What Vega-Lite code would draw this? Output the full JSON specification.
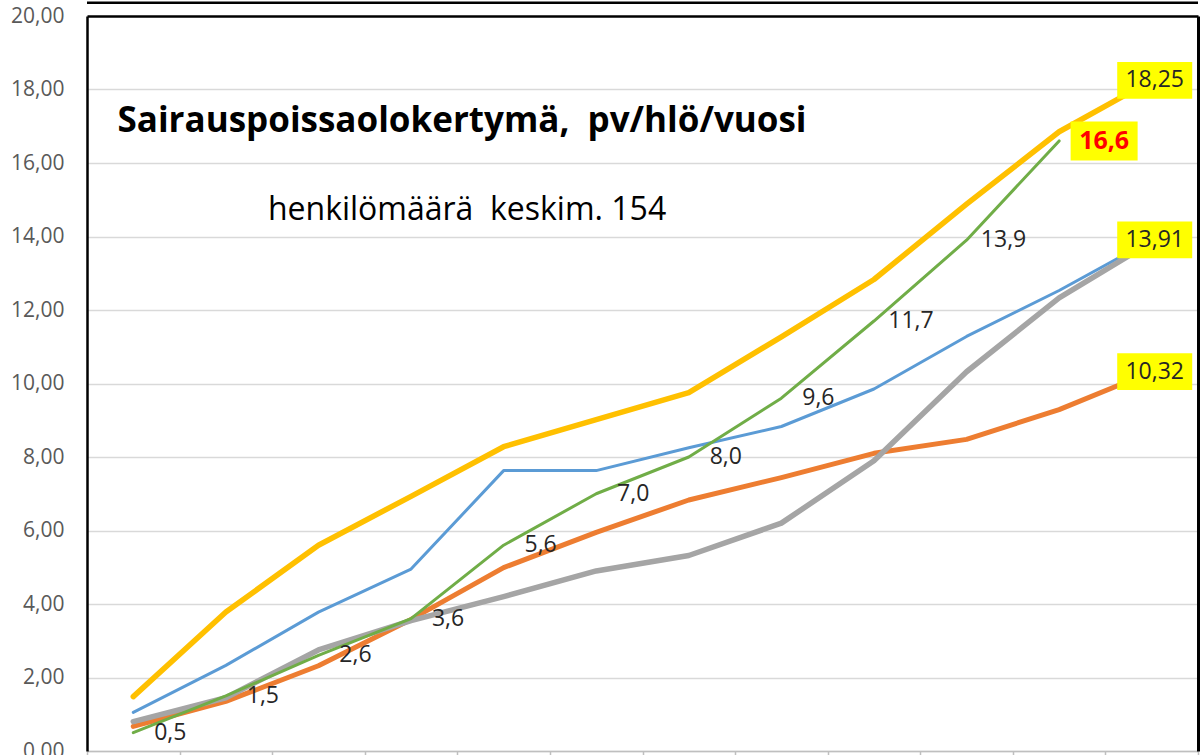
{
  "$schema": "https://vega.github.io/schema/vega-lite/v6.json",
  "width": 1111,
  "height": 735,
  "autosize": "none",
  "padding": {"left": 87, "top": 16, "right": 4, "bottom": 4},
  "background": "white",
  "config": {
    "locale": {"number": {"decimal": ",", "thousands": " ", "grouping": [3], "currency": ["", " €"]}},
    "view": {"stroke": null},
    "font": "Open Sans"
  },
  "data": {
    "values": [
      {"series": "Sarja 1", "m": 1, "value": 1.05},
      {"series": "Sarja 1", "m": 2, "value": 2.33},
      {"series": "Sarja 1", "m": 3, "value": 3.78},
      {"series": "Sarja 1", "m": 4, "value": 4.95},
      {"series": "Sarja 1", "m": 5, "value": 7.63},
      {"series": "Sarja 1", "m": 6, "value": 7.63},
      {"series": "Sarja 1", "m": 7, "value": 8.25},
      {"series": "Sarja 1", "m": 8, "value": 8.83},
      {"series": "Sarja 1", "m": 9, "value": 9.85},
      {"series": "Sarja 1", "m": 10, "value": 11.28},
      {"series": "Sarja 1", "m": 11, "value": 12.53},
      {"series": "Sarja 1", "m": 12, "value": 13.91},
      {"series": "Sarja 2", "m": 1, "value": 0.67},
      {"series": "Sarja 2", "m": 2, "value": 1.35},
      {"series": "Sarja 2", "m": 3, "value": 2.32},
      {"series": "Sarja 2", "m": 4, "value": 3.58},
      {"series": "Sarja 2", "m": 5, "value": 4.99},
      {"series": "Sarja 2", "m": 6, "value": 5.95},
      {"series": "Sarja 2", "m": 7, "value": 6.83},
      {"series": "Sarja 2", "m": 8, "value": 7.44},
      {"series": "Sarja 2", "m": 9, "value": 8.1},
      {"series": "Sarja 2", "m": 10, "value": 8.48},
      {"series": "Sarja 2", "m": 11, "value": 9.29},
      {"series": "Sarja 2", "m": 12, "value": 10.32},
      {"series": "Sarja 3", "m": 1, "value": 0.8},
      {"series": "Sarja 3", "m": 2, "value": 1.45},
      {"series": "Sarja 3", "m": 3, "value": 2.75},
      {"series": "Sarja 3", "m": 4, "value": 3.55},
      {"series": "Sarja 3", "m": 5, "value": 4.2},
      {"series": "Sarja 3", "m": 6, "value": 4.9},
      {"series": "Sarja 3", "m": 7, "value": 5.32},
      {"series": "Sarja 3", "m": 8, "value": 6.2},
      {"series": "Sarja 3", "m": 9, "value": 7.9},
      {"series": "Sarja 3", "m": 10, "value": 10.32},
      {"series": "Sarja 3", "m": 11, "value": 12.33},
      {"series": "Sarja 3", "m": 12, "value": 13.85},
      {"series": "Sarja 4", "m": 1, "value": 1.48},
      {"series": "Sarja 4", "m": 2, "value": 3.78},
      {"series": "Sarja 4", "m": 3, "value": 5.6},
      {"series": "Sarja 4", "m": 4, "value": 6.93},
      {"series": "Sarja 4", "m": 5, "value": 8.28},
      {"series": "Sarja 4", "m": 6, "value": 9.02},
      {"series": "Sarja 4", "m": 7, "value": 9.75},
      {"series": "Sarja 4", "m": 8, "value": 11.27},
      {"series": "Sarja 4", "m": 9, "value": 12.83},
      {"series": "Sarja 4", "m": 10, "value": 14.88},
      {"series": "Sarja 4", "m": 11, "value": 16.85},
      {"series": "Sarja 4", "m": 12, "value": 18.25},
      {"series": "Sarja 5", "m": 1, "value": 0.5},
      {"series": "Sarja 5", "m": 2, "value": 1.5},
      {"series": "Sarja 5", "m": 3, "value": 2.6},
      {"series": "Sarja 5", "m": 4, "value": 3.6},
      {"series": "Sarja 5", "m": 5, "value": 5.6},
      {"series": "Sarja 5", "m": 6, "value": 7.0},
      {"series": "Sarja 5", "m": 7, "value": 8.0},
      {"series": "Sarja 5", "m": 8, "value": 9.6},
      {"series": "Sarja 5", "m": 9, "value": 11.7},
      {"series": "Sarja 5", "m": 10, "value": 13.9},
      {"series": "Sarja 5", "m": 11, "value": 16.6}
    ]
  },
  "resolve": {"axis": {"x": "independent", "y": "independent"}},
  "layer": [
    {
      "mark": {"type": "line", "strokeJoin": "round", "strokeCap": "round"},
      "encoding": {
        "x": {
          "field": "m", "type": "ordinal",
          "scale": {"paddingInner": 0, "paddingOuter": 0},
          "axis": {"orient": "bottom", "title": null, "labels": false, "grid": false, "domainColor": "#BFBFBF", "domainWidth": 1.5, "tickColor": "#BFBFBF", "tickWidth": 1.5, "tickSize": 5, "tickBand": "extent"}
        },
        "y": {
          "field": "value", "type": "quantitative",
          "scale": {"domain": [0, 20], "nice": false},
          "axis": {
            "orient": "left", "title": null, "values": [0, 2, 4, 6, 8, 10, 12, 14, 16, 18, 20], "format": ".2f",
            "labelFont": "Open Sans", "labelFontSize": 21, "labelColor": "#595959", "labelPadding": 23,
            "ticks": false, "domainColor": "#000000", "domainWidth": 2.5,
            "gridColor": {"condition": {"test": "datum.value == 20", "value": "#000000"}, "value": "#D9D9D9"},
            "gridWidth": {"condition": {"test": "datum.value == 20", "value": 2.5}, "value": 1.5}
          }
        },
        "color": {
          "field": "series", "type": "nominal",
          "scale": {"domain": ["Sarja 1", "Sarja 2", "Sarja 3", "Sarja 4", "Sarja 5"], "range": ["#5B9BD5", "#ED7D31", "#A5A5A5", "#FFC000", "#70AD47"]},
          "legend": null
        },
        "strokeWidth": {
          "field": "series", "type": "nominal",
          "scale": {"type": "ordinal", "domain": ["Sarja 1", "Sarja 2", "Sarja 3", "Sarja 4", "Sarja 5"], "range": [3, 5, 5.5, 5.5, 3]},
          "legend": null
        }
      }
    },
    {
      "data": {"values": [{"edge": 20.36}]},
      "mark": {"type": "rule", "color": "#000000", "strokeWidth": 2.5, "clip": false},
      "encoding": {
        "y": {"field": "edge", "type": "quantitative", "axis": null}
      }
    },
    {
      "transform": [{"filter": "datum.series == 'Sarja 5' && datum.m <= 10"}],
      "mark": {"type": "text", "dx": 37, "fontSize": 23, "color": "#262626", "align": "center", "baseline": "middle"},
      "encoding": {
        "x": {"field": "m", "type": "ordinal", "axis": null},
        "y": {"field": "value", "type": "quantitative", "axis": {"orient": "right", "title": null, "labels": false, "ticks": false, "grid": false, "domainColor": "#000000", "domainWidth": 3}},
        "text": {"field": "value", "type": "quantitative", "format": ".1f"}
      }
    },
    {
      "transform": [{"filter": "datum.series == 'Sarja 5' && datum.m == 11"}],
      "mark": {"type": "point", "shape": "M-1,-0.58H1V0.58H-1Z", "size": 4489, "filled": true, "fill": "#FFFF00", "opacity": 1, "strokeWidth": 0, "xOffset": 45},
      "encoding": {
        "x": {"field": "m", "type": "ordinal", "axis": null},
        "y": {"field": "value", "type": "quantitative", "axis": null}
      }
    },
    {
      "transform": [{"filter": "datum.m == 12 && datum.series != 'Sarja 3'"}],
      "mark": {"type": "point", "shape": "M-1,-0.49H1V0.49H-1Z", "size": 5625, "filled": true, "fill": "#FFFF00", "opacity": 1, "strokeWidth": 0, "xOffset": 3},
      "encoding": {
        "x": {"field": "m", "type": "ordinal", "axis": null},
        "y": {"field": "value", "type": "quantitative", "axis": null}
      }
    },
    {
      "transform": [{"filter": "datum.series == 'Sarja 5' && datum.m == 11"}],
      "mark": {"type": "text", "dx": 45, "fontSize": 25, "fontWeight": "bold", "color": "#FF0000", "align": "center", "baseline": "middle"},
      "encoding": {
        "x": {"field": "m", "type": "ordinal", "axis": null},
        "y": {"field": "value", "type": "quantitative", "axis": null},
        "text": {"field": "value", "type": "quantitative", "format": ".1f"}
      }
    },
    {
      "transform": [{"filter": "datum.m == 12 && datum.series != 'Sarja 3'"}],
      "mark": {"type": "text", "dx": 3, "fontSize": 23, "color": "#262626", "align": "center", "baseline": "middle"},
      "encoding": {
        "x": {"field": "m", "type": "ordinal", "axis": null},
        "y": {"field": "value", "type": "quantitative", "axis": null},
        "text": {"field": "value", "type": "quantitative", "format": ".2f"}
      }
    },
    {
      "data": {"values": [{"t": "Sairauspoissaolokertymä,\u00a0 pv/hlö/vuosi", "m": 4, "value": 17.13}]},
      "mark": {"type": "text", "dx": 51, "fontSize": 35, "fontWeight": "bold", "color": "#000000", "align": "center", "baseline": "middle"},
      "encoding": {
        "x": {"field": "m", "type": "ordinal", "axis": null},
        "y": {"field": "value", "type": "quantitative", "axis": null},
        "text": {"field": "t"}
      }
    },
    {
      "data": {"values": [{"t": "henkilömäärä\u00a0 keskim. 154", "m": 4, "value": 14.73}]},
      "mark": {"type": "text", "dx": 56, "fontSize": 32, "color": "#000000", "align": "center", "baseline": "middle"},
      "encoding": {
        "x": {"field": "m", "type": "ordinal", "axis": null},
        "y": {"field": "value", "type": "quantitative", "axis": null},
        "text": {"field": "t"}
      }
    }
  ]
}
